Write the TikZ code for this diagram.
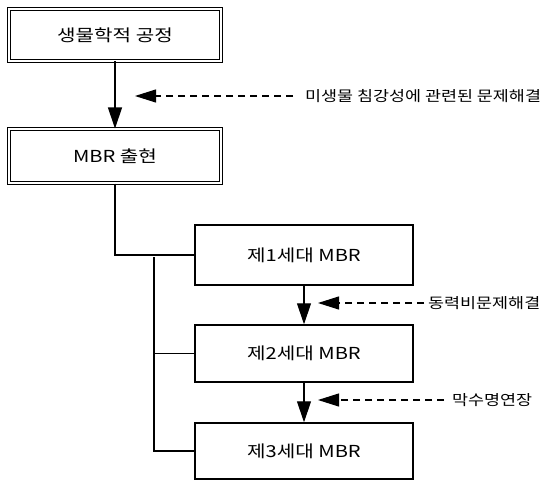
\documentclass[tikz,border=0pt]{standalone}
\usepackage{fontspec}
\setmainfont{Noto Sans CJK KR}
\newfontfamily\boxfont[FakeStretch=1.22]{Noto Sans CJK KR}
\newfontfamily\lblfont[FakeStretch=1.2]{Noto Sans CJK KR}
\usetikzlibrary{arrows.meta}
\tikzset{
  dbox/.style={draw, line width=1pt, double, double distance=1.6pt, minimum width=212pt, minimum height=52pt, inner sep=0pt, font=\boxfont\fontsize{16.5}{18}\selectfont},
  sbox/.style={draw, line width=1.5pt, minimum width=218pt, inner sep=0pt, font=\boxfont\fontsize{16.5}{18}\selectfont},
  lbl/.style={anchor=west, inner sep=0pt, font=\lblfont\fontsize{14.5}{16}\selectfont},
  solidarr/.style={line width=1.2pt, -{Triangle[length=21pt,width=14pt]}},
  dasharr/.style={line width=1.1pt, dash pattern=on 7pt off 5pt, -{Triangle[length=21pt,width=13pt]}},
  conn/.style={line width=1.1pt}
}
\begin{document}
\begin{tikzpicture}[x=1pt,y=-1pt]
\useasboundingbox (0,0) rectangle (548,481);
\node[dbox] (b1) at (115,35) {생물학적 공정};
\node[dbox, minimum height=54pt] (b2) at (115,156) {MBR 출현};
\node[sbox, minimum height=60pt] (b3) at (304,255) {제1세대 MBR};
\node[sbox, minimum height=57pt] (b4) at (304,353.5) {제2세대 MBR};
\node[sbox, minimum height=56pt] (b5) at (304,451) {제3세대 MBR};

\node[lbl] (l1) at (305,96) {미생물 침강성에 관련된 문제해결};
\node[lbl] (l2) at (428,303) {동력비문제해결};
\node[lbl] (l3) at (452,400) {막수명연장};

\coordinate (t1) at (135,96);
\coordinate (t2) at (318,303);
\coordinate (t3) at (318,400);
\coordinate (j1) at (154,257);
\coordinate (j2) at (154,353.5);
\coordinate (j3) at (154,451);

\draw[solidarr] (b1) -- (b2);
\draw[solidarr] (b3) -- (b4);
\draw[solidarr] (b4) -- (b5);

\draw[dasharr, shorten <=12pt] (l1.west) -- (t1);
\draw[dasharr, shorten <=4pt] (l2.west) -- (t2);
\draw[dasharr, shorten <=8pt] (l3.west) -- (t3);

\draw[conn] (b2.south) |- (b3.west);
\draw[conn] (j1) -- (j3) -- (b5.west);
\draw[conn] (j2) -- (b4.west);
\end{tikzpicture}
\end{document}
